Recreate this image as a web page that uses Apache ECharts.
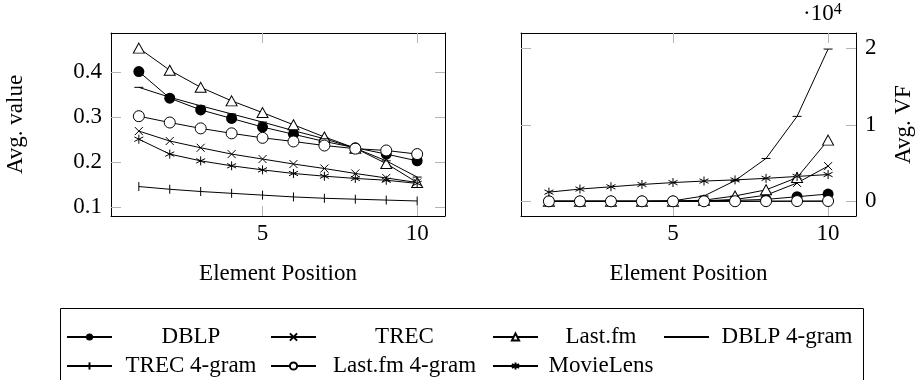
<!DOCTYPE html>
<html>
<head>
<meta charset="utf-8">
<script src="https://cdn.jsdelivr.net/npm/echarts@6/dist/echarts.min.js"></script>
<style>
  html, body { margin: 0; padding: 0; background: #fff; }
  #chart { width: 918px; height: 380px; }
</style>
</head>
<body>
<div id="chart"></div>
<script>
// element positions (x)
const positions = [1, 2, 3, 4, 5, 6, 7, 8, 9, 10];

// left plot: Avg. value
const dblpAvg    = [0.401, 0.342, 0.316, 0.297, 0.278, 0.262, 0.246, 0.232, 0.218, 0.203];
const trecAvg    = [0.269, 0.247, 0.232, 0.218, 0.207, 0.196, 0.186, 0.175, 0.165, 0.155];
const lastfmAvg  = [0.453, 0.404, 0.366, 0.336, 0.310, 0.283, 0.256, 0.231, 0.197, 0.155];
const dblp4Avg   = [0.366, 0.344, 0.325, 0.307, 0.289, 0.270, 0.252, 0.231, 0.203, 0.167];
const trec4Avg   = [0.146, 0.140, 0.135, 0.131, 0.127, 0.123, 0.120, 0.118, 0.116, 0.114];
const lastfm4Avg = [0.302, 0.288, 0.275, 0.264, 0.254, 0.246, 0.237, 0.230, 0.226, 0.218];
const movieAvg   = [0.251, 0.218, 0.203, 0.192, 0.183, 0.175, 0.169, 0.164, 0.160, 0.153];

// right plot: Avg. VF
const dblpVF    = [0, 0, 0, 0, 20, 60, 120, 250, 600, 950];
const trecVF    = [0, 0, 0, 0, 10, 60, 250, 800, 2400, 4600];
const lastfmVF  = [0, 0, 0, 0, 20, 150, 700, 1500, 3100, 8000];
const dblp4VF   = [0, 0, 0, 0, 60, 700, 2700, 5600, 11100, 19900];
const trec4VF   = [0, 0, 0, 0, 0, 0, 0, 0, 0, 0];
const lastfm4VF = [0, 0, 0, 0, 0, 0, 10, 20, 30, 40];
const movieVF   = [1200, 1600, 1900, 2200, 2450, 2650, 2800, 3000, 3250, 3500];

// tick labels
const xTicks = [5, 10];
const avgTicks = [0.1, 0.2, 0.3, 0.4];
const vfTicks = [0, 10000, 20000];

const FONT = '"Liberation Serif", "DejaVu Serif", serif';
const FS = 23;

// stroked marks use extra zero-length moves so the symbol box stays square
const markers = {
  'DBLP':           { symbol: 'circle', size: 11, fill: '#000' },
  'TREC':           { symbol: 'path://M0,0L10,10M10,0L0,10', size: 8, fill: '#000', stroke: true },
  'Last.fm':        { symbol: 'triangle', size: [11, 10], fill: '#fff', stroke: true },
  'DBLP 4-gram':    { symbol: 'path://M0,5L10,5M5,0L5,0M5,10L5,10', size: 9, fill: 'none', stroke: true },
  'TREC 4-gram':    { symbol: 'path://M5,0L5,10M0,5L0,5M10,5L10,5', size: 9, fill: 'none', stroke: true },
  'Last.fm 4-gram': { symbol: 'circle', size: 11, fill: '#fff', stroke: true },
  'MovieLens':      { symbol: 'path://M50,0L50,100M6.7,25L93.3,75M6.7,75L93.3,25', size: 9, fill: 'none', stroke: true }
};

function zip(ys) {
  return positions.map((x, i) => [x, ys[i]]);
}

function line(name, ys, idx) {
  const m = markers[name];
  return {
    name: name,
    type: 'line',
    xAxisIndex: idx,
    yAxisIndex: idx,
    data: zip(ys),
    symbol: m.symbol,
    symbolSize: m.size,
    showSymbol: true,
    lineStyle: { color: '#000', width: 1 },
    itemStyle: {
      color: m.fill,
      borderColor: '#000',
      borderWidth: m.stroke ? 1 : 0
    },
    emphasis: { disabled: true }
  };
}

const axisLine = { show: true, onZero: false, lineStyle: { color: '#000', width: 1 } };
const tickStyle = { color: '#b4b4b4', width: 1 };
const labelStyle = { color: '#000', fontFamily: FONT, fontSize: FS };

function xAxis(grid, pos, withLabel) {
  return {
    type: 'value', gridIndex: grid, position: pos,
    min: 0.1, max: 10.9,
    axisLine: axisLine,
    axisTick: { show: true, inside: true, length: 10, lineStyle: tickStyle, customValues: xTicks },
    axisLabel: Object.assign({ show: withLabel, margin: 6, customValues: xTicks }, labelStyle),
    splitLine: { show: false },
    name: withLabel ? 'Element Position' : '',
    nameLocation: 'middle', nameGap: 46,
    nameTextStyle: labelStyle
  };
}

function yAxis(grid, pos, withLabel, range, ticks, name, gap, fmt) {
  return {
    type: 'value', gridIndex: grid, position: pos,
    min: range[0], max: range[1],
    axisLine: axisLine,
    axisTick: { show: true, inside: true, length: 10, lineStyle: tickStyle, customValues: ticks },
    axisLabel: Object.assign({ show: withLabel, margin: 9, customValues: ticks, formatter: fmt }, labelStyle),
    splitLine: { show: false },
    name: withLabel ? name : '',
    nameLocation: 'middle', nameGap: gap, nameRotate: 90,
    nameTextStyle: labelStyle
  };
}

// legend layout: column icon lefts and text column ranges
const iconW = 45;
const colIcon = [66, 270, 492, 663];
const colText = [[118, 262], [322, 485], [543, 657], [715, 857]];
const rowY = [330, 359];
const legendCells = [
  ['DBLP', 0, 0], ['TREC', 0, 1], ['Last.fm', 0, 2], ['DBLP 4-gram', 0, 3],
  ['TREC 4-gram', 1, 0], ['Last.fm 4-gram', 1, 1], ['MovieLens', 1, 2]
];

const measure = document.createElement('canvas').getContext('2d');
measure.font = FS + 'px ' + FONT;

const legends = legendCells.map(([name, row, col]) => {
  const w = measure.measureText(name).width;
  const center = (colText[col][0] + colText[col][1]) / 2;
  const textLeft = center - w / 2;
  const pad = Math.max(0, textLeft - (colIcon[col] + iconW + 5));
  const ih = 9;
  return {
    data: [name],
    left: colIcon[col],
    top: rowY[row] - ih / 2,
    padding: 0,
    itemWidth: iconW,
    itemHeight: ih,
    selectedMode: false,
    textStyle: { color: '#000', fontFamily: FONT, fontSize: FS, padding: [0, 0, 5, pad] }
  };
});

const chart = echarts.init(document.getElementById('chart'), null, { renderer: 'canvas' });

chart.setOption({
  animation: false,
  backgroundColor: '#fff',
  grid: [
    { left: 111, top: 33, width: 334, height: 183 },
    { left: 521, top: 33, width: 335, height: 183 }
  ],
  xAxis: [
    xAxis(0, 'bottom', true),
    xAxis(1, 'bottom', true),
    xAxis(0, 'top', false),
    xAxis(1, 'top', false)
  ],
  yAxis: [
    yAxis(0, 'left', true, [0.0807, 0.4865], avgTicks, 'Avg. value', 84, v => v.toFixed(1)),
    yAxis(1, 'right', true, [-1920, 22000], vfTicks, 'Avg. VF', 36, v => String(v / 10000)),
    yAxis(0, 'right', false, [0.0807, 0.4865], avgTicks, '', 0),
    yAxis(1, 'left', false, [-1920, 22000], vfTicks, '', 0)
  ],
  title: {
    text: '·10{s|4}',
    left: 803, top: 2, padding: 0,
    textStyle: {
      color: '#000', fontFamily: FONT, fontSize: FS, fontWeight: 'normal',
      rich: { s: { fontFamily: FONT, fontSize: 16, verticalAlign: 'top', padding: [0, 0, 8, 0] } }
    }
  },
  legend: legends,
  graphic: [{
    type: 'rect',
    shape: { x: 60.5, y: 308.5, width: 803, height: 80 },
    style: { fill: 'none', stroke: '#000', lineWidth: 1 },
    silent: true
  }],
  series: [
    line('DBLP', dblpAvg, 0),
    line('TREC', trecAvg, 0),
    line('Last.fm', lastfmAvg, 0),
    line('DBLP 4-gram', dblp4Avg, 0),
    line('TREC 4-gram', trec4Avg, 0),
    line('Last.fm 4-gram', lastfm4Avg, 0),
    line('MovieLens', movieAvg, 0),
    line('DBLP', dblpVF, 1),
    line('TREC', trecVF, 1),
    line('Last.fm', lastfmVF, 1),
    line('DBLP 4-gram', dblp4VF, 1),
    line('TREC 4-gram', trec4VF, 1),
    line('Last.fm 4-gram', lastfm4VF, 1),
    line('MovieLens', movieVF, 1)
  ]
});
</script>
</body>
</html>
